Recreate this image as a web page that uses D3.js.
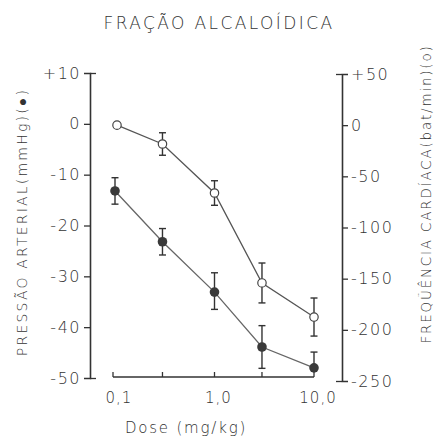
<body style="margin:0;background:#fff">
<svg width="447" height="438"></svg>
<script src="https://d3js.org/d3.v7.min.js"></script>
<script>
// doses (mg/kg) and responses
const doses = [0.1, 0.3, 1.0, 3.0, 10.0];
const pressure = [-13.2, -23.2, -33.1, -43.9, -48.0];      // filled circles, left axis
const pressureErrUp = [2.6, 2.6, 3.8, 4.2, 3.1];
const pressureErrDown = [2.6, 2.6, 3.4, 4.2, 0];
const heartRate = [0, -18.4, -66.3, -154.2, -187.5];        // open circles, right axis
const heartRateErr = [0, 11, 12, 19.5, 18.6];
const leftTicks = [10, 0, -10, -20, -30, -40, -50];
const rightTicks = [50, 0, -50, -100, -150, -200, -250];
const xTickLabels = ["0,1", "1,0", "10,0"];

const svg = d3.select("svg");
const font = "'DejaVu Sans', sans-serif";
const ink = "#333";

// scales
const x = d3.scaleLog().domain([0.1, 10]).range([115, 314]);
const yL = d3.scaleLinear().domain([-50, 10]).range([378, 73]);
const yR = d3.scaleLinear().domain([-250, 50]).range([381, 74]);

// title
svg.append("text")
  .attr("x", 219).attr("y", 29)
  .attr("text-anchor", "middle")
  .attr("font-family", font).attr("font-size", 17).attr("font-weight", 200)
  .attr("letter-spacing", 2.4).attr("fill", ink)
  .text("FRAÇÃO  ALCALOÍDICA");

// left axis
const gl = svg.append("g").attr("transform", "translate(90,0)")
  .call(d3.axisLeft(yL).tickValues(leftTicks).tickSizeOuter(0).tickSize(6).tickPadding(3)
    .tickFormat(d => d > 0 ? "+" + d : String(d)));
// right axis
const gr = svg.append("g").attr("transform", "translate(342,0)")
  .call(d3.axisRight(yR).tickValues(rightTicks).tickSizeOuter(0).tickSize(6).tickPadding(3)
    .tickFormat(d => d > 0 ? "+" + d : String(d)));

[gl, gr].forEach((g, i) => {
  g.select(".domain").attr("stroke", ink).attr("stroke-width", 1.6);
  g.selectAll(".tick line").attr("stroke", ink).attr("stroke-width", 1.3);
  g.selectAll(".tick text")
    .attr("font-family", font).attr("font-size", 16).attr("font-weight", 200)
    .attr("fill", ink).attr("letter-spacing", 1.5);
  // end ticks turn inward like the drawn brackets
  const ends = i === 0 ? [10, -50] : [50, -250];
  g.selectAll(".tick").filter(d => ends.includes(d)).select("line")
    .attr("x2", i === 0 ? 6 : -6);
});

// bottom axis (ticks pointing up, no outer ticks)
const gx = svg.append("g").attr("transform", "translate(0,377)");
gx.append("line").attr("x1", 113).attr("x2", 314)
  .attr("stroke", ink).attr("stroke-width", 1.6);
gx.selectAll("line.t").data(doses).join("line").attr("class", "t")
  .attr("x1", d => x(d) - (d === 0.1 ? 2 : 0)).attr("x2", d => x(d) - (d === 0.1 ? 2 : 0))
  .attr("y1", 0).attr("y2", -5)
  .attr("stroke", ink).attr("stroke-width", 1.3);
gx.selectAll("text").data([0.1, 1, 10]).join("text")
  .attr("x", d => x(d) + 4).attr("y", 26)
  .attr("text-anchor", "middle")
  .attr("font-family", font).attr("font-size", 15).attr("font-weight", 200)
  .attr("letter-spacing", 1).attr("fill", ink)
  .text((d, i) => xTickLabels[i]);

// axis titles
svg.append("text")
  .attr("x", 186).attr("y", 433)
  .attr("text-anchor", "middle")
  .attr("font-family", font).attr("font-size", 15).attr("font-weight", 200)
  .attr("letter-spacing", 1.8).attr("fill", ink)
  .text("Dose (mg/kg)");
svg.append("text")
  .attr("transform", "translate(27,222) rotate(-90)")
  .attr("text-anchor", "middle")
  .attr("font-family", font).attr("font-size", 14).attr("font-weight", 200)
  .attr("letter-spacing", 2.2).attr("fill", ink)
  .text("PRESSÃO  ARTERIAL(mmHg)(●)");
svg.append("text")
  .attr("transform", "translate(431,194) rotate(-90)")
  .attr("text-anchor", "middle")
  .attr("font-family", font).attr("font-size", 13.5).attr("font-weight", 200)
  .attr("letter-spacing", 1.8).attr("fill", ink)
  .text("FREQÜÊNCIA  CARDÍACA(bat/min)(o)");

// connecting lines
const lineL = d3.line().x((d, i) => x(doses[i])).y(d => yL(d));
const lineR = d3.line().x((d, i) => x(doses[i]) + (i === 0 ? 2 : 0)).y(d => yR(d));
svg.append("path").attr("d", lineL(pressure))
  .attr("fill", "none").attr("stroke", "#666").attr("stroke-width", 1.3);
svg.append("path").attr("d", lineR(heartRate))
  .attr("fill", "none").attr("stroke", "#555").attr("stroke-width", 1.3);

// error bars
function errorBars(vals, up, down, y) {
  const g = svg.append("g").attr("stroke", ink).attr("stroke-width", 1.4);
  vals.forEach((v, i) => {
    if (!up[i] && !down[i]) return;
    const cx = x(doses[i]), y1 = y(v + up[i]), y2 = y(v - down[i]);
    g.append("line").attr("x1", cx).attr("x2", cx).attr("y1", y1).attr("y2", y2);
    if (up[i]) g.append("line").attr("x1", cx - 3.5).attr("x2", cx + 3.5).attr("y1", y1).attr("y2", y1);
    if (down[i]) g.append("line").attr("x1", cx - 3.5).attr("x2", cx + 3.5).attr("y1", y2).attr("y2", y2);
  });
}
errorBars(pressure, pressureErrUp, pressureErrDown, yL);
errorBars(heartRate, heartRateErr, heartRateErr, yR);

// markers
svg.selectAll("circle.p").data(pressure).join("circle").attr("class", "p")
  .attr("cx", (d, i) => x(doses[i])).attr("cy", d => yL(d))
  .attr("r", 4.8).attr("fill", "#3a3a3a");
svg.selectAll("circle.h").data(heartRate).join("circle").attr("class", "h")
  .attr("cx", (d, i) => x(doses[i]) + (i === 0 ? 2 : 0)).attr("cy", d => yR(d))
  .attr("r", 4.2).attr("fill", "#fff").attr("stroke", "#444").attr("stroke-width", 1.2);
</script>
</body>
